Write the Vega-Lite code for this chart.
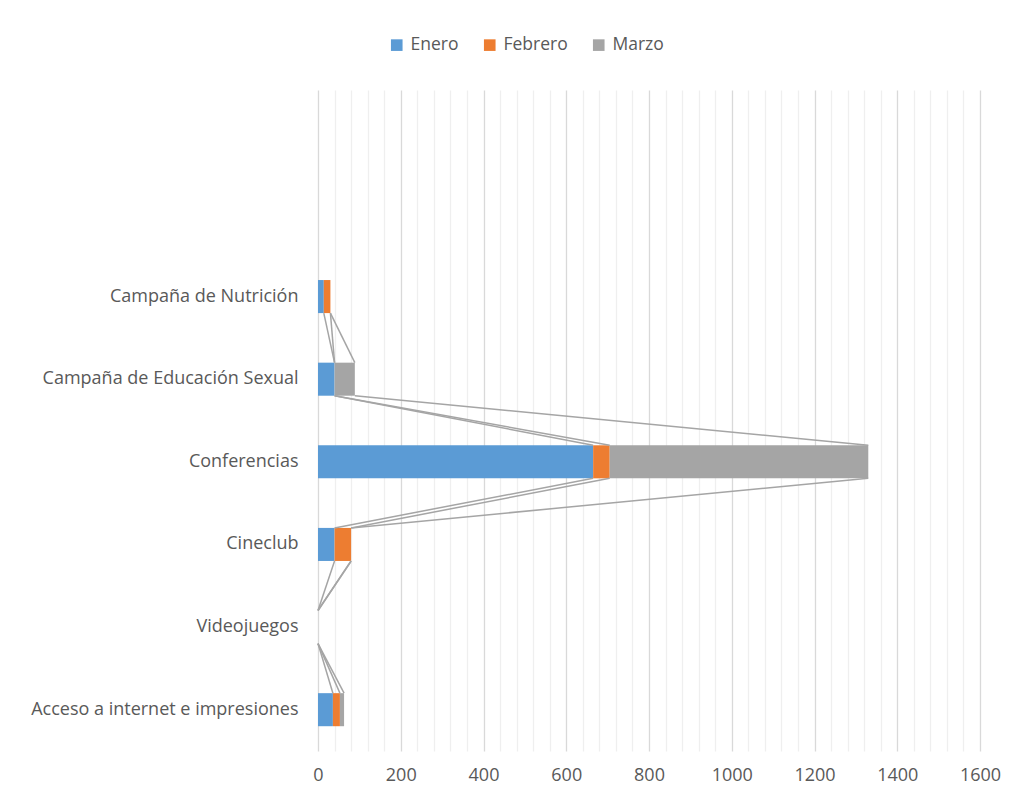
{
  "$schema": "https://vega.github.io/schema/vega-lite/v6.json",
  "autosize": {"type": "none"},
  "width": 662,
  "height": 661,
  "padding": {"left": 318, "top": 90, "right": 33, "bottom": 49},
  "background": "#FFFFFF",
  "config": {
    "view": {"stroke": null},
    "font": "Open Sans",
    "axis": {"labelColor": "#595959", "labelFont": "Open Sans"},
    "legend": {"labelColor": "#595959", "labelFont": "Open Sans"}
  },
  "datasets": {
    "barras": [
      {"categoria": "Acceso a internet e impresiones", "mes": "Enero", "valor": 36},
      {"categoria": "Acceso a internet e impresiones", "mes": "Febrero", "valor": 17},
      {"categoria": "Acceso a internet e impresiones", "mes": "Marzo", "valor": 10},
      {"categoria": "Videojuegos", "mes": "Enero", "valor": 0},
      {"categoria": "Videojuegos", "mes": "Febrero", "valor": 0},
      {"categoria": "Videojuegos", "mes": "Marzo", "valor": 0},
      {"categoria": "Cineclub", "mes": "Enero", "valor": 40},
      {"categoria": "Cineclub", "mes": "Febrero", "valor": 40},
      {"categoria": "Cineclub", "mes": "Marzo", "valor": 0},
      {"categoria": "Conferencias", "mes": "Enero", "valor": 665},
      {"categoria": "Conferencias", "mes": "Febrero", "valor": 40},
      {"categoria": "Conferencias", "mes": "Marzo", "valor": 625},
      {"categoria": "Campaña de Educación Sexual", "mes": "Enero", "valor": 40},
      {"categoria": "Campaña de Educación Sexual", "mes": "Febrero", "valor": 0},
      {"categoria": "Campaña de Educación Sexual", "mes": "Marzo", "valor": 49},
      {"categoria": "Campaña de Nutrición", "mes": "Enero", "valor": 14},
      {"categoria": "Campaña de Nutrición", "mes": "Febrero", "valor": 16},
      {"categoria": "Campaña de Nutrición", "mes": "Marzo", "valor": 0}
    ],
    "lineas": [
      {"desde": "Acceso a internet e impresiones", "hasta": "Videojuegos", "mes": "Enero", "inicio": 36, "fin": 0},
      {"desde": "Acceso a internet e impresiones", "hasta": "Videojuegos", "mes": "Febrero", "inicio": 53, "fin": 0},
      {"desde": "Acceso a internet e impresiones", "hasta": "Videojuegos", "mes": "Marzo", "inicio": 63, "fin": 0},
      {"desde": "Videojuegos", "hasta": "Cineclub", "mes": "Enero", "inicio": 0, "fin": 40},
      {"desde": "Videojuegos", "hasta": "Cineclub", "mes": "Febrero", "inicio": 0, "fin": 80},
      {"desde": "Videojuegos", "hasta": "Cineclub", "mes": "Marzo", "inicio": 0, "fin": 80},
      {"desde": "Cineclub", "hasta": "Conferencias", "mes": "Enero", "inicio": 40, "fin": 665},
      {"desde": "Cineclub", "hasta": "Conferencias", "mes": "Febrero", "inicio": 80, "fin": 705},
      {"desde": "Cineclub", "hasta": "Conferencias", "mes": "Marzo", "inicio": 80, "fin": 1330},
      {"desde": "Conferencias", "hasta": "Campaña de Educación Sexual", "mes": "Enero", "inicio": 665, "fin": 40},
      {"desde": "Conferencias", "hasta": "Campaña de Educación Sexual", "mes": "Febrero", "inicio": 705, "fin": 40},
      {"desde": "Conferencias", "hasta": "Campaña de Educación Sexual", "mes": "Marzo", "inicio": 1330, "fin": 89},
      {"desde": "Campaña de Educación Sexual", "hasta": "Campaña de Nutrición", "mes": "Enero", "inicio": 40, "fin": 14},
      {"desde": "Campaña de Educación Sexual", "hasta": "Campaña de Nutrición", "mes": "Febrero", "inicio": 40, "fin": 30},
      {"desde": "Campaña de Educación Sexual", "hasta": "Campaña de Nutrición", "mes": "Marzo", "inicio": 89, "fin": 30}
    ]
  },
  "layer": [
    {
      "data": {"name": "barras"},
      "mark": {"type": "bar"},
      "encoding": {
        "y": {
          "field": "categoria",
          "type": "nominal",
          "scale": {
            "domain": ["_1", "_2", "Campaña de Nutrición", "Campaña de Educación Sexual", "Conferencias", "Cineclub", "Videojuegos", "Acceso a internet e impresiones"],
            "paddingInner": 0.6,
            "paddingOuter": 0.3
          },
          "axis": {
            "title": null,
            "domain": false,
            "ticks": false,
            "grid": false,
            "labelPadding": 20,
            "labelFontSize": 18,
            "labelLimit": 0,
            "labelExpr": "indexof(datum.label, '_') === 0 ? '' : (datum.label === 'Campaña de Educación Sexual' ? 'Campaña de Educación Sexual\u00a0' : datum.label)"
          }
        },
        "x": {
          "field": "valor",
          "type": "quantitative",
          "stack": "zero",
          "scale": {"domain": [0, 1600], "nice": false, "zero": true},
          "axis": {
            "title": null,
            "values": [0, 40, 80, 120, 160, 200, 240, 280, 320, 360, 400, 440, 480, 520, 560, 600, 640, 680, 720, 760, 800, 840, 880, 920, 960, 1000, 1040, 1080, 1120, 1160, 1200, 1240, 1280, 1320, 1360, 1400, 1440, 1480, 1520, 1560, 1600],
            "tickCount": 60,
            "labelExpr": "datum.value % 200 === 0 ? datum.label : ''",
            "format": "d",
            "domain": false,
            "ticks": false,
            "grid": true,
            "gridColor": {"condition": {"test": "datum.value % 200 === 0", "value": "#D9D9D9"}, "value": "#EFEFEF"},
            "gridWidth": 1.3,
            "labelPadding": 15,
            "labelFontSize": 18,
            "labelFlush": false,
            "labelOverlap": false
          }
        },
        "color": {
          "field": "mes",
          "type": "nominal",
          "scale": {"domain": ["Enero", "Febrero", "Marzo"], "range": ["#5B9BD5", "#ED7D31", "#A5A5A5"]},
          "legend": {
            "title": null,
            "orient": "none",
            "direction": "horizontal",
            "legendX": 70,
            "legendY": -54,
            "symbolType": "square",
            "symbolSize": 135,
            "symbolStrokeWidth": 0,
            "labelFontSize": 17.5,
            "labelOffset": 5,
            "columnPadding": 22,
            "padding": 0,
            "encode": {
              "symbols": {
                "update": {
                  "fill": {"signal": "datum.value === 'Enero' ? '#4472C4' : scale('color', datum.value)"}
                }
              }
            }
          }
        },
        "order": {"field": "mes", "sort": "ascending"}
      }
    },
    {
      "data": {"name": "lineas"},
      "mark": {"type": "rule", "color": "#A5A5A5", "strokeWidth": 1.5},
      "encoding": {
        "y": {"field": "desde", "type": "nominal", "bandPosition": 0},
        "y2": {"field": "hasta", "bandPosition": 1},
        "x": {"field": "inicio", "type": "quantitative"},
        "x2": {"field": "fin"},
        "detail": {"field": "mes"}
      }
    }
  ]
}
